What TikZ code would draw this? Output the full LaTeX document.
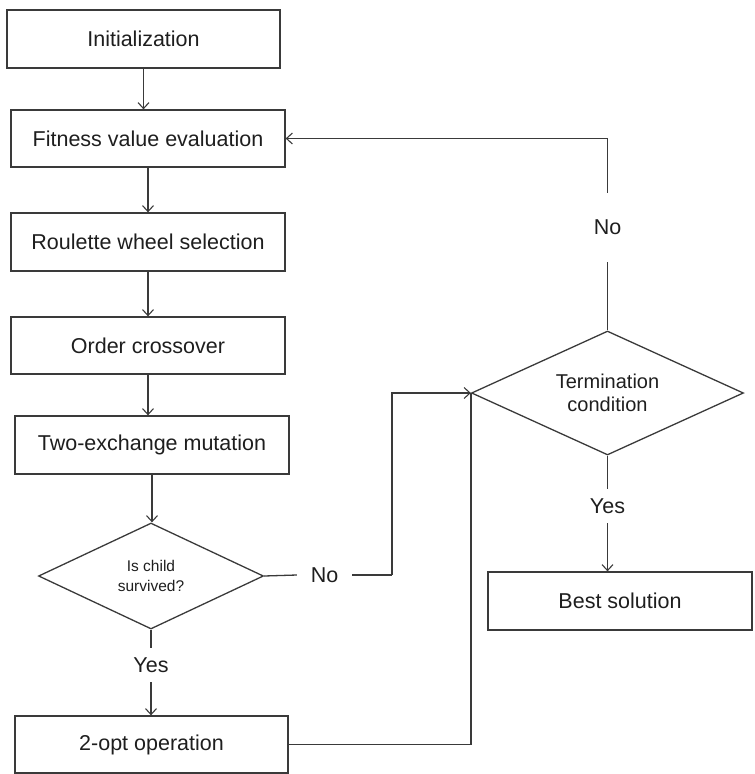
\documentclass[tikz,border=0pt]{standalone}
\usepackage{fontspec}
\setmainfont{Liberation Sans}
\usetikzlibrary{shapes.geometric,arrows.meta}
\definecolor{inkline}{HTML}{3A3A3A}
\definecolor{inktext}{HTML}{1E1E1E}
\tikzset{
  base/.style={draw=inkline, line width=1.3pt, text=inktext, inner sep=0pt,
    font=\fontsize{21.5}{24}\selectfont},
  stepbox/.style={base, rectangle, minimum height=57pt},
  choice/.style={base, diamond, align=center},
  tag/.style={inner sep=0pt, text=inktext, font=\fontsize{21.5}{24}\selectfont},
  link/.style={draw=inkline, line width=1.3pt},
  flow/.style={link, -{Straight Barb[length=6pt,width=11pt,line width=1.1pt]}},
}
\begin{document}
\begin{tikzpicture}[x=1pt, y=-1pt]
\useasboundingbox (0,0) rectangle (755,774);

% main column
\node[stepbox, minimum width=273pt, minimum height=58pt] (init) at (143.5,39) {Initialization};
\node[stepbox, minimum width=274pt] (fit) at (148,138.5) {Fitness value evaluation};
\node[stepbox, minimum width=274pt, minimum height=58pt] (rou) at (148,242) {Roulette wheel selection};
\node[stepbox, minimum width=274pt] (ord) at (148,345.5) {Order crossover};
\node[stepbox, minimum width=274pt, minimum height=58pt] (two) at (152,445) {Two-exchange mutation};
\node[choice, shape aspect=2.12, minimum width=225pt, minimum height=106pt,
      font=\fontsize{15.5}{20}\selectfont] (surv) at (151,576) {Is child\\survived?};
\node[stepbox, minimum width=273pt] (opt) at (151.5,744.5) {2-opt operation};

% right column
\node[choice, shape aspect=2.2, minimum width=272pt, minimum height=124pt,
      font=\fontsize{20}{23}\selectfont] (term) at (607.5,393) {Termination\\condition};
\node[stepbox, minimum width=264pt, minimum height=58pt] (best) at (620,601) {Best solution};

% branch labels
\node[tag, minimum width=55pt] (noA) at (324.5,575) {No};
\node[tag, minimum height=34pt] (yesA) at (151,665) {Yes};
\node[tag, minimum height=69pt] (noB) at (607.5,227.5) {No};
\node[tag, minimum height=34pt] (yesB) at (607.5,506) {Yes};
\coordinate (joinA) at (392,575);

% connectors
\draw[flow] (init.south) -- (init.south |- fit.north);
\draw[flow] (fit) -- (rou);
\draw[flow] (rou) -- (ord);
\draw[flow] (ord.south) -- (ord.south |- two.north);
\draw[flow] (two.south) -- (two.south |- surv.north);
\draw[link] (surv.south) -- (yesA.north);
\draw[flow] (yesA.south) -- (yesA.south |- opt.north);
\draw[link] (surv.east) -- (noA.west);
\draw[link] (noA.east) -- (joinA);
\draw[flow] (joinA) |- (term.west);
\draw[link] (opt.east) -| (term.west);
\draw[link] (term.north) -- (noB.south);
\draw[flow] (noB.north) |- (fit.east);
\draw[link] (term.south) -- (yesB.north);
\draw[flow] (yesB.south) -- (yesB.south |- best.north);
\end{tikzpicture}
\end{document}
